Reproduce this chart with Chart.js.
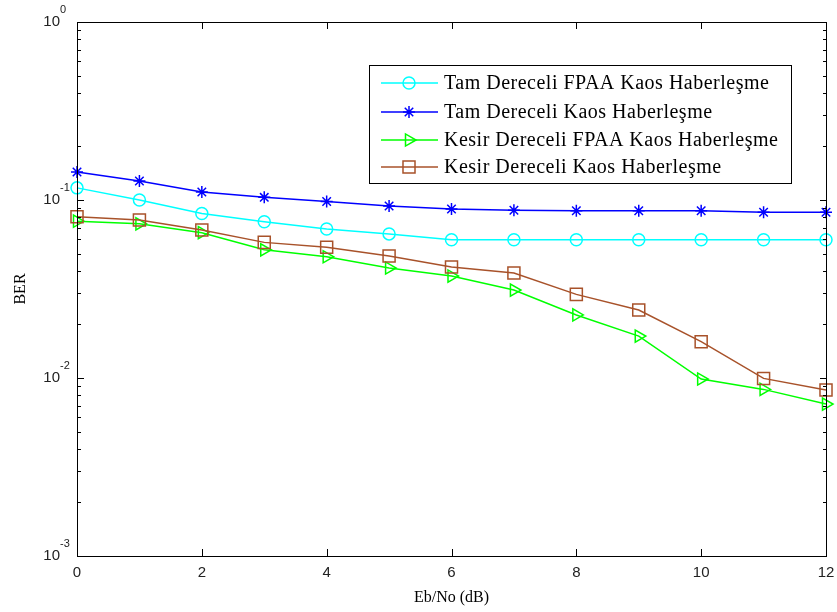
<!DOCTYPE html>
<html>
<head>
<meta charset="utf-8">
<style>
  html, body { margin: 0; padding: 0; background: #fff; }
  #wrap { width: 837px; height: 612px; }
</style>
</head>
<body>
<div id="wrap"><canvas id="berChart" width="837" height="612"></canvas></div>
<script src="https://cdn.jsdelivr.net/npm/chart.js"></script>
<script>
  // Eb/No (dB) eksen degerleri
  const ebNo = [0, 1, 2, 3, 4, 5, 6, 7, 8, 9, 10, 11, 12];

  // BER degerleri
  const tamFpaa = [0.117, 0.1, 0.084, 0.0755, 0.0687, 0.0645, 0.0598, 0.0598, 0.0598, 0.0598, 0.0598, 0.0598, 0.0598];
  const tamKaos = [0.1436, 0.128, 0.111, 0.1035, 0.098, 0.0925, 0.089, 0.0875, 0.087, 0.087, 0.087, 0.0853, 0.0853];
  const kesirFpaa = [0.076, 0.0735, 0.0655, 0.0525, 0.048, 0.0415, 0.0374, 0.0312, 0.0226, 0.0172, 0.00987, 0.00863, 0.00714];
  const kesirKaos = [0.0806, 0.0772, 0.0678, 0.0578, 0.0542, 0.0485, 0.042, 0.0389, 0.0295, 0.0241, 0.016, 0.00995, 0.00857];

  const seriesNames = [
    "Tam Dereceli FPAA Kaos Haberleşme",
    "Tam Dereceli Kaos Haberleşme",
    "Kesir Dereceli FPAA Kaos Haberleşme",
    "Kesir Dereceli Kaos Haberleşme",
  ];
  const xTicks = [0, 2, 4, 6, 8, 10, 12];
  const yDecades = [0, -1, -2, -3];

  function toPoints(ys) {
    return ebNo.map((x, i) => ({ x: x, y: ys[i] }));
  }

  // Eksen kutusu, ice dogru tikler, y etiketleri ve legend
  const matlabAxes = {
    id: "matlabAxes",
    afterDraw(chart) {
      const { ctx, chartArea: a, scales } = chart;
      const xs = scales.x, ys = scales.y;
      const L = Math.round(a.left), R = Math.round(a.right);
      const T = Math.round(a.top), B = Math.round(a.bottom);
      ctx.save();
      ctx.fillStyle = "#000";
      // kutu
      ctx.fillRect(L, T, R - L + 1, 1);
      ctx.fillRect(L, B, R - L + 1, 1);
      ctx.fillRect(L, T, 1, B - T + 1);
      ctx.fillRect(R, T, 1, B - T + 1);

      // x tikleri
      xTicks.forEach((v) => {
        const px = Math.round(xs.getPixelForValue(v));
        ctx.fillRect(px, B - 7, 1, 7);
        ctx.fillRect(px, T, 1, 7);
      });
      // y tikleri (log)
      for (let d = -3; d < 0; d++) {
        for (let m = 1; m <= 9; m++) {
          const py = Math.round(ys.getPixelForValue(m * Math.pow(10, d)));
          const len = m === 1 ? 7 : 4;
          ctx.fillRect(L, py, len, 1);
          ctx.fillRect(R - len + 1, py, len, 1);
        }
      }

      // y etiketleri 10^n
      ctx.fillStyle = "#222";
      yDecades.forEach((d) => {
        const py = ys.getPixelForValue(Math.pow(10, d));
        ctx.font = "15px 'Liberation Sans'";
        ctx.textAlign = "right";
        ctx.textBaseline = "middle";
        ctx.fillText("10", 60, py);
        ctx.font = "11px 'Liberation Sans'";
        ctx.textAlign = "left";
        ctx.fillText(String(d), 60, py - 12);
      });

      // y baslik
      ctx.save();
      ctx.translate(21, (a.top + a.bottom) / 2);
      ctx.rotate(-Math.PI / 2);
      ctx.font = "16px 'Liberation Serif'";
      ctx.textAlign = "center";
      ctx.textBaseline = "middle";
      ctx.fillStyle = "#000";
      ctx.fillText("BER", 0, 0);
      ctx.restore();

      // legend
      const bx = 369, by = 65, bw = 422, bh = 118;
      ctx.fillStyle = "#fff";
      ctx.fillRect(bx, by, bw, bh);
      ctx.strokeStyle = "#000";
      ctx.lineWidth = 1;
      ctx.strokeRect(bx + 0.5, by + 0.5, bw, bh);
      const rowY = [83, 112, 140, 167];
      chart.data.datasets.forEach((ds, i) => {
        const y = rowY[i];
        ctx.strokeStyle = ds.borderColor;
        ctx.lineWidth = ds.borderWidth;
        ctx.beginPath();
        ctx.moveTo(381, y); ctx.lineTo(438, y);
        ctx.stroke();
        ctx.lineWidth = ds.pointBorderWidth;
        ctx.fillStyle = "rgba(0,0,0,0)";
        Chart.helpers.drawPoint(ctx, {
          pointStyle: ds.pointStyle,
          rotation: ds.pointRotation || 0,
          radius: ds.pointRadius,
          borderWidth: ds.pointBorderWidth,
        }, 409, y);
        ctx.fillStyle = "#000";
        ctx.font = "20px 'Liberation Serif'";
        ctx.letterSpacing = "0.5px";
        ctx.textAlign = "left";
        ctx.textBaseline = "middle";
        ctx.fillText(ds.label, 444, y + 1);
        ctx.letterSpacing = "0px";
      });
      ctx.restore();
    },
  };

  const ctx = document.getElementById("berChart").getContext("2d");

  new Chart(ctx, {
    type: "line",
    data: {
      datasets: [
        {
          label: seriesNames[0],
          data: toPoints(tamFpaa),
          borderColor: "#00ffff",
          backgroundColor: "rgba(0,0,0,0)",
          borderWidth: 1.5,
          pointStyle: "circle",
          pointRadius: 6,
          pointBorderWidth: 1.5,
          order: 4,
        },
        {
          label: seriesNames[1],
          data: toPoints(tamKaos),
          borderColor: "#0000ff",
          backgroundColor: "rgba(0,0,0,0)",
          borderWidth: 1.5,
          pointStyle: "star",
          pointRadius: 6,
          pointBorderWidth: 1.5,
          order: 3,
        },
        {
          label: seriesNames[2],
          data: toPoints(kesirFpaa),
          borderColor: "#00ff00",
          backgroundColor: "rgba(0,0,0,0)",
          borderWidth: 1.5,
          pointStyle: "triangle",
          pointRotation: 90,
          pointRadius: 7,
          pointBorderWidth: 1.5,
          order: 2,
        },
        {
          label: seriesNames[3],
          data: toPoints(kesirKaos),
          borderColor: "#a8522a",
          backgroundColor: "rgba(0,0,0,0)",
          borderWidth: 1.5,
          pointStyle: "rect",
          pointRadius: 8.5,
          pointBorderWidth: 1.5,
          order: 1,
        },
      ],
    },
    options: {
      responsive: false,
      animation: false,
      clip: false,
      layout: { padding: { top: 22, right: 11, left: 0, bottom: 0 } },
      plugins: {
        legend: { display: false },
        tooltip: { enabled: false },
      },
      elements: { line: { tension: 0 } },
      scales: {
        x: {
          type: "linear",
          min: 0,
          max: 12,
          grid: { display: false, drawTicks: false },
          border: { display: false },
          ticks: {
            stepSize: 2,
            padding: 8,
            color: "#222",
            font: { family: "'Liberation Sans'", size: 15 },
          },
          title: {
            display: true,
            text: "Eb/No (dB)",
            color: "#000",
            font: { family: "'Liberation Serif'", size: 16 },
            padding: { top: 0, bottom: 5 },
          },
          afterFit(scale) {
            scale.height = 56;
            scale.paddingLeft = 0;
            scale.paddingRight = 0;
          },
        },
        y: {
          type: "logarithmic",
          min: 0.001,
          max: 1,
          grid: { display: false, drawTicks: false },
          border: { display: false },
          ticks: { display: false },
          afterFit(scale) { scale.width = 77; },
        },
      },
    },
    plugins: [matlabAxes],
  });
</script>
</body>
</html>
